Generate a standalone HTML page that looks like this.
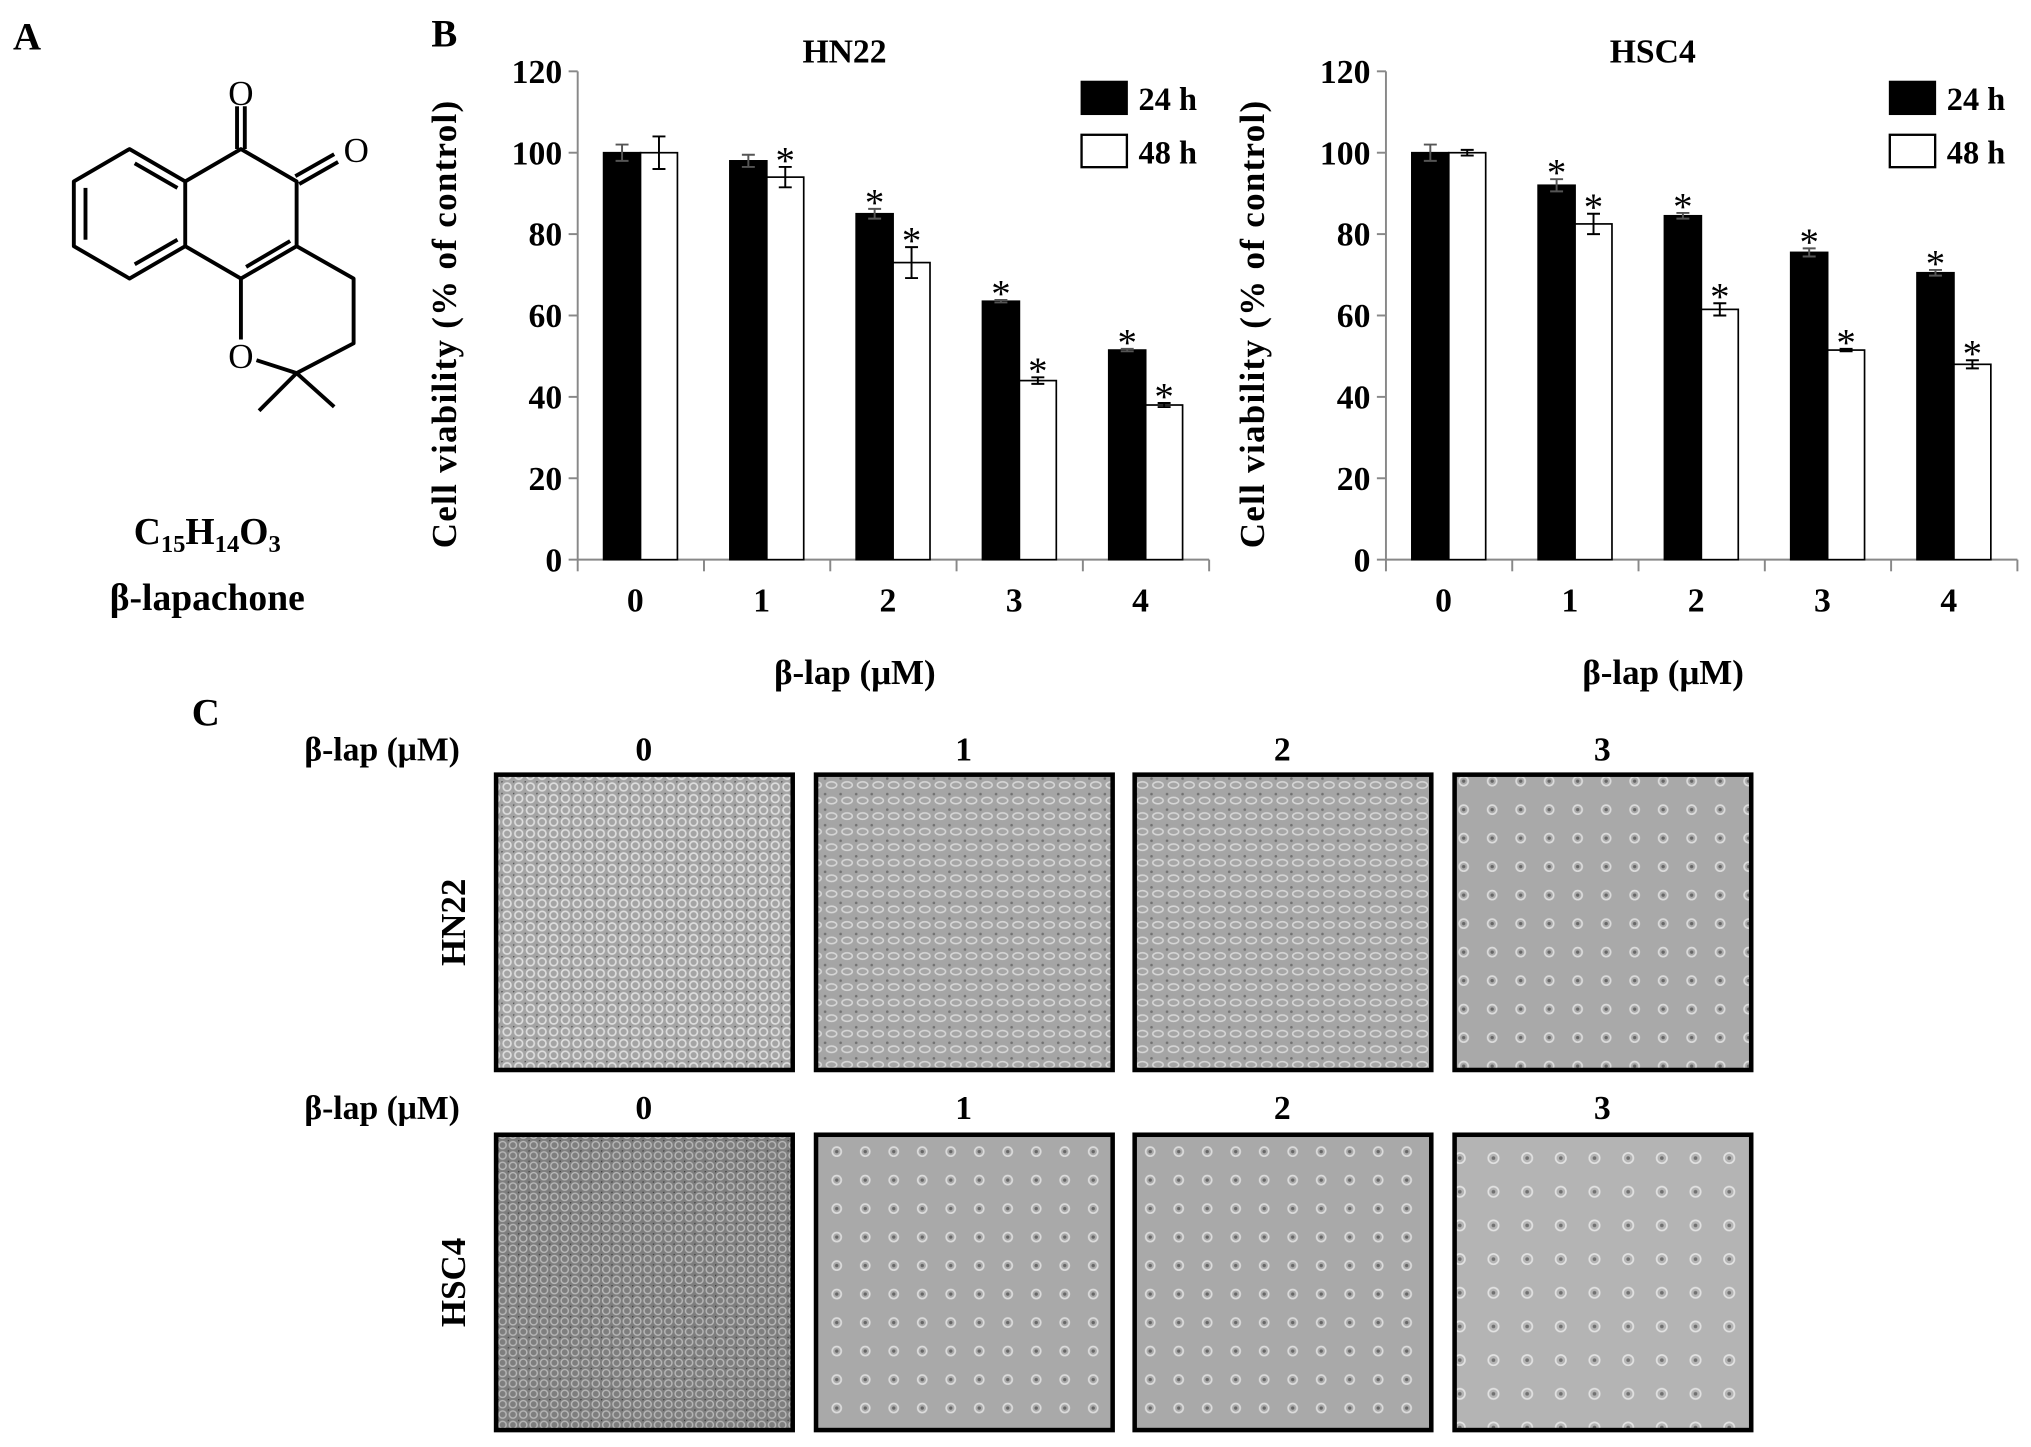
<!DOCTYPE html>
<html><head><meta charset="utf-8"><style>
html,body{margin:0;padding:0;background:#fff;}
svg{display:block;font-family:"Liberation Serif",serif;font-weight:bold;}
</style></head><body>
<svg id="fig" width="2031" height="1447" viewBox="0 0 1568 1117" xmlns="http://www.w3.org/2000/svg">
<defs>
<pattern id="cellsDense" width="9" height="9" patternUnits="userSpaceOnUse">
<rect width="9" height="9" fill="#a4a4a4"/><circle cx="4.5" cy="4.5" r="3" fill="none" stroke="#dedede" stroke-width="1.3"/><circle cx="0" cy="0" r="1.2" fill="#555"/>
</pattern>
<pattern id="cellsDark" width="8" height="8" patternUnits="userSpaceOnUse">
<rect width="8" height="8" fill="#7e7e7e"/><circle cx="4" cy="4" r="2.8" fill="none" stroke="#b8b8b8" stroke-width="1.1"/><circle cx="0" cy="0" r="1.1" fill="#3e3e3e"/>
</pattern>
<pattern id="cellsMid" width="12" height="12" patternUnits="userSpaceOnUse">
<rect width="12" height="12" fill="#a5a5a5"/><ellipse cx="6" cy="6" rx="4" ry="2.5" fill="none" stroke="#d6d6d6" stroke-width="1.2"/><circle cx="1" cy="1" r="1" fill="#707070"/>
</pattern>
<pattern id="cellsSparse" width="22" height="22" patternUnits="userSpaceOnUse">
<rect width="22" height="22" fill="#a9a9a9"/><circle cx="8" cy="9" r="3.5" fill="none" stroke="#dcdcdc" stroke-width="1.3"/><circle cx="8" cy="9" r="1.3" fill="#666"/>
</pattern>
<pattern id="cellsSparse2" width="26" height="26" patternUnits="userSpaceOnUse">
<rect width="26" height="26" fill="#b4b4b4"/><circle cx="9" cy="10" r="4" fill="none" stroke="#e2e2e2" stroke-width="1.3"/><circle cx="9" cy="10" r="1.4" fill="#707070"/>
</pattern>
</defs>

<!-- Panel A -->
<text x="10" y="38" font-size="30">A</text>
<g stroke="#000" stroke-width="3" fill="none" stroke-linejoin="round">
<polygon points="100,115 143,140 143,190 100,215 57,190 57,140"/>
<line x1="104" y1="126" x2="137" y2="145"/>
<line x1="137" y1="185" x2="104" y2="204"/>
<line x1="66" y1="145" x2="66" y2="185"/>
<polyline points="143,140 186,115 229,140 229,190 186,215 143,190"/>
<line x1="190" y1="206" x2="224" y2="186"/>
<line x1="183" y1="115" x2="183" y2="82"/><line x1="189" y1="115" x2="189" y2="82"/>
<line x1="228" y1="136" x2="258" y2="119"/><line x1="231" y1="142" x2="261" y2="125"/>
<polyline points="186,215 186,262"/>
<polyline points="198,278 229,288 273,265 273,215 229,190"/>
<line x1="229" y1="288" x2="200" y2="317"/>
<line x1="229" y1="288" x2="258" y2="314"/>
</g>
<text x="186" y="81" font-size="27" font-weight="normal" text-anchor="middle">O</text>
<text x="275" y="125" font-size="27" font-weight="normal" text-anchor="middle">O</text>
<text x="186" y="284" font-size="27" font-weight="normal" text-anchor="middle">O</text>
<text x="160" y="420" font-size="29" text-anchor="middle">C<tspan font-size="19" dy="6">15</tspan><tspan dy="-6">H</tspan><tspan font-size="19" dy="6">14</tspan><tspan dy="-6">O</tspan><tspan font-size="19" dy="6">3</tspan></text>
<text x="160" y="471" font-size="29" text-anchor="middle">β-lapachone</text>

<!-- Panel B -->
<text x="333" y="36" font-size="30">B</text>
<g id="charts"></g>

<!-- Panel C -->
<text x="148" y="560" font-size="30">C</text>
<g id="micro"></g>
</svg>
<script>
const ns="http://www.w3.org/2000/svg";
const categories=["0","1","2","3","4"];
const yTicks=[0,20,40,60,80,100,120];
const hn22_24=[100,98,85,63.5,51.5];
const hn22_48=[100,94,73,44,38];
const hn22_24err=[2,1.5,1.2,0.3,0.3];
const hn22_48err=[4,2.5,3.8,0.8,0.5];
const hn22_24sig=[0,0,1,1,1];
const hn22_48sig=[0,1,1,1,1];
const hsc4_24=[100,92,84.5,75.5,70.5];
const hsc4_48=[100,82.5,61.5,51.5,48];
const hsc4_24err=[2,1.5,0.7,1,0.7];
const hsc4_48err=[0.7,2.5,1.5,0.3,1];
const hsc4_24sig=[0,1,1,1,1];
const hsc4_48sig=[0,1,1,1,1];

function mk(tag,attrs,parent,text){const e=document.createElementNS(ns,tag);for(const k in attrs)e.setAttribute(k,attrs[k]);if(text!==undefined)e.textContent=text;parent.appendChild(e);return e;}

function chart(name,ax,title,s24,s48,e24,e48,g24,g48){
  const root=document.getElementById('charts');
  const g=mk('g',{},root);
  
  
  const y0=432,yTop=55,ymax=120,step=97.5;
  const yS=v=>y0-(v/ymax)*(y0-yTop);
  const xC=i=>ax+48.5+i*step;
  const t=mk('text',{x:ax+206,y:48,'font-size':26,'text-anchor':'middle'},g,title);
  
  
  const axl=mk('line',{x1:ax,y1:yTop,x2:ax,y2:y0,stroke:'#888','stroke-width':1.5},g);
  
  
  yTicks.forEach(v=>{
    mk('line',{x1:ax-7,y1:yS(v),x2:ax,y2:yS(v),stroke:'#888','stroke-width':1.5},g);
    const tl=mk('text',{x:ax-12,y:yS(v)+9,'font-size':26,'text-anchor':'end'},g,String(v));
    
    
  });
  const xl=mk('line',{x1:ax,y1:y0,x2:ax+step*5,y2:y0,stroke:'#888','stroke-width':1.5},g);
  
  
  for(let i=0;i<=5;i++)mk('line',{x1:ax+i*step,y1:y0,x2:ax+i*step,y2:y0+9,stroke:'#888','stroke-width':1.5},g);
  categories.forEach((c,i)=>{
    const tl=mk('text',{x:xC(i)-4,y:472,'font-size':26,'text-anchor':'middle'},g,c);
    
    
    const pairs=[[s24,e24,g24,xC(i)-28.5,'#000','bar-24h'],[s48,e48,g48,xC(i),'#fff','bar-48h']];
    pairs.forEach(([s,e,sg,x,fill,nm])=>{
      const b=mk('rect',{x:x,y:yS(s[i]),width:28.5,height:y0-yS(s[i]),fill:fill,stroke:'#000','stroke-width':1.3},g);
      
      
      const cx=x+14.25,ya=yS(s[i]+e[i]),yb=yS(s[i]-e[i]);
      const eb=mk('path',{d:`M${cx},${ya}V${yb}M${cx-5},${ya}H${cx+5}M${cx-5},${yb}H${cx+5}`,stroke:fill==='#000'?'#555':'#000','stroke-width':1.5,fill:'none'},g);
      
      
      if(sg[i]){
        const st=mk('text',{x:cx,y:ya+5,'font-size':30,'text-anchor':'middle','font-weight':'normal'},g,'*');
        
        
      }
    });
  });
  const yt=mk('text',{x:0,y:0,'font-size':27,'text-anchor':'middle','letter-spacing':'1',transform:`translate(${ax-94},250) rotate(-90)`},g,'Cell viability  (%  of control)');
  
  
  const xt=mk('text',{x:ax+214,y:528,'font-size':27,'text-anchor':'middle'},g,'β-lap (μM)');
  
  
  const lx=ax+389;
  const l1=mk('rect',{x:lx,y:63,width:35,height:25,fill:'#000',stroke:'#000','stroke-width':1.5},g);
  
  
  const lt1=mk('text',{x:lx+44,y:85,'font-size':25},g,'24 h');
  
  
  const l2=mk('rect',{x:lx,y:104,width:35,height:25,fill:'#fff',stroke:'#000','stroke-width':1.8},g);
  
  
  const lt2=mk('text',{x:lx+44,y:126,'font-size':25},g,'48 h');
  
  
}
chart('hn22',446,'HN22',hn22_24,hn22_48,hn22_24err,hn22_48err,hn22_24sig,hn22_48sig);
chart('hsc4',1070,'HSC4',hsc4_24,hsc4_48,hsc4_24err,hsc4_48err,hsc4_24sig,hsc4_48sig);

const doses=["0","1","2","3"];
const rowNames=["HN22","HSC4"];
const fills=[["cellsDense","cellsMid","cellsMid","cellsSparse"],["cellsDark","cellsSparse","cellsSparse","cellsSparse2"]];
const mg=document.getElementById('micro');
const colX=[383,630,876,1123],rowY=[598,876];
rowNames.forEach((r,ri)=>{
  const hl=mk('text',{x:295,y:ri?864:587,'font-size':26,'text-anchor':'middle'},mg,'β-lap (μM)');
  
  
  const rl=mk('text',{x:0,y:0,'font-size':27,'text-anchor':'middle',transform:`translate(359,${rowY[ri]+114}) rotate(-90)`},mg,r);
  
  
  doses.forEach((d,di)=>{
    const dl=mk('text',{x:colX[di]+114,y:ri?864:587,'font-size':26,'text-anchor':'middle'},mg,d);
    
    
    const im=mk('rect',{x:colX[di],y:rowY[ri],width:229,height:228,fill:`url(#${fills[ri][di]})`,stroke:'#000','stroke-width':3.5},mg);
    
    
  });
});
</script>
</body></html>
